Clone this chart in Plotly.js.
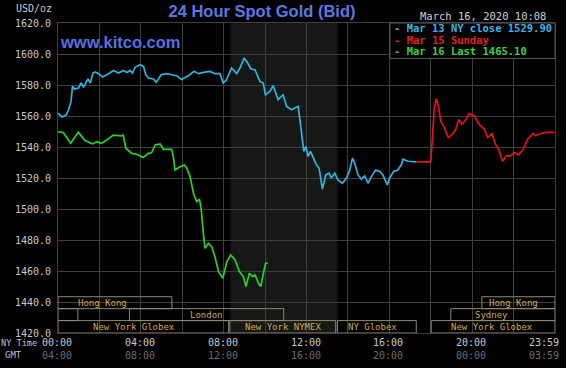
<!DOCTYPE html>
<html>
<head>
<meta charset="utf-8">
<script src="https://cdn.plot.ly/plotly-3.0.1.min.js"></script>
<style>
html,body{margin:0;padding:0;background:#000;}
#chart{width:566px;height:368px;}
</style>
</head>
<body>
<div id="chart"></div>
<script>
// ---- data (hours since 00:00 NY time, USD/oz) ----
const mar13Hours = [0, 0.19, 0.39, 0.51, 0.63, 0.7, 0.8, 0.99, 1.12, 1.23, 1.45, 1.56, 1.69, 1.8, 1.96, 2.15, 2.36, 2.68, 2.92, 3.16, 3.33, 3.48, 3.6, 3.73, 3.97, 4.13, 4.24, 4.37, 4.61, 4.74, 4.98, 5.25, 5.49, 5.73, 5.96, 6.29, 6.58, 6.78, 7.02, 7.34, 7.58, 7.82, 7.98, 8.14, 8.38, 8.63, 8.79, 8.99, 9.16, 9.32, 9.51, 9.75, 9.91, 10.02, 10.23, 10.39, 10.63, 10.87, 11.04, 11.28, 11.52, 11.6, 11.68, 11.81, 11.87, 11.97, 12.08, 12.19, 12.32, 12.48, 12.61, 12.77, 12.93, 13.09, 13.2, 13.36, 13.52, 13.73, 13.93, 14.09, 14.22, 14.33, 14.49, 14.65, 14.81, 14.97, 15.18, 15.34, 15.53, 15.69, 15.9, 16.01, 16.21, 16.41, 16.58, 16.66, 16.9, 17.3];
const mar13Values = [1561.9, 1559.4, 1560.6, 1564, 1569.4, 1579.1, 1577.4, 1578.1, 1581.3, 1578.5, 1583.9, 1581.3, 1587.7, 1588.4, 1587.3, 1585.2, 1586.6, 1589.4, 1587.7, 1589.4, 1588.1, 1589.4, 1587.7, 1591.6, 1593.1, 1592, 1586.6, 1584.5, 1583.9, 1581.7, 1586.6, 1587.3, 1586.6, 1586, 1583.6, 1586, 1588.8, 1587.3, 1588.1, 1588.8, 1587.3, 1587.3, 1581.3, 1583.4, 1591, 1587.3, 1591, 1597.4, 1594.2, 1590.3, 1589.9, 1582.3, 1581.3, 1573.7, 1575.9, 1579.5, 1570.5, 1573.7, 1566.2, 1564.1, 1565.8, 1566.2, 1557.6, 1544.7, 1537.2, 1540.4, 1533.9, 1537.2, 1532.9, 1528.5, 1526.3, 1512.8, 1522, 1523.1, 1519.9, 1523.1, 1518.8, 1516.6, 1519.9, 1525.2, 1532.8, 1529.5, 1522, 1519.2, 1521.3, 1516.6, 1522, 1525.2, 1524.2, 1522, 1515.5, 1519.9, 1524.2, 1525.2, 1528.5, 1532.1, 1530.8, 1530.4];

const mar15Hours = [17.3, 18.0, 18.05, 18.11, 18.17, 18.27, 18.37, 18.48, 18.65, 18.85, 19.05, 19.21, 19.35, 19.51, 19.7, 19.86, 20.1, 20.34, 20.59, 20.75, 20.96, 21.12, 21.28, 21.47, 21.64, 21.83, 22.04, 22.25, 22.47, 22.68, 22.95, 23.08, 23.32, 23.57, 23.98];
const mar15Values = [1530.4, 1530.4, 1539.6, 1554.6, 1565.3, 1571.3, 1566.4, 1556.8, 1552.5, 1546.1, 1548.2, 1551.4, 1557.8, 1554.6, 1557.8, 1561.5, 1560, 1554.6, 1551.4, 1546.1, 1548.7, 1541.8, 1538.6, 1530.6, 1534.3, 1534.3, 1536.4, 1534.9, 1538.6, 1545, 1548.7, 1547.2, 1548.7, 1549.4, 1549.4];

const mar16Hours = [0, 0.26, 0.61, 0.98, 1.3, 1.67, 1.87, 2.1, 2.35, 2.67, 3.07, 3.15, 3.28, 3.56, 3.8, 4.12, 4.36, 4.52, 4.69, 4.93, 5.09, 5.49, 5.57, 5.65, 5.89, 6.1, 6.22, 6.38, 6.54, 6.7, 6.83, 6.91, 7.02, 7.1, 7.26, 7.42, 7.58, 7.75, 7.96, 8.15, 8.34, 8.55, 8.76, 8.95, 9.08, 9.24, 9.4, 9.52, 9.68, 9.79, 9.95, 10.03, 10.13];
const mar16Values = [1549.9, 1549.2, 1542.4, 1549.5, 1544.1, 1542, 1543.4, 1542.4, 1544.5, 1547.7, 1547.1, 1547.7, 1539.2, 1535.9, 1535.3, 1533.3, 1535.9, 1536.3, 1541.3, 1541.9, 1538.5, 1538.5, 1533.8, 1525.2, 1527.3, 1528.4, 1526.3, 1520.9, 1510.1, 1504.7, 1506.3, 1500.5, 1484.3, 1474.6, 1477.8, 1475.7, 1469.2, 1459.6, 1455.3, 1466, 1470.3, 1467.1, 1459.6, 1456.4, 1449.9, 1458.5, 1456.4, 1457.4, 1452.1, 1449.9, 1460.6, 1465, 1465.1];

const seriesNames = ['Mar 13 NY close 1529.90', 'Mar 15 Sunday', 'Mar 16 Last 1465.10'];

const tickHours = [0, 4, 8, 12, 16, 20, 23.983];
const nyTimeLabels = ['00:00', '04:00', '08:00', '12:00', '16:00', '20:00', '23:59'];
const gmtLabels = ['04:00', '08:00', '12:00', '16:00', '20:00', '00:00', '03:59'];

// sessions
const sessionNames = ['Hong Kong', '', 'London', 'New York Globex', 'New York NYMEX', 'NY Globex', 'New York Globex', 'Sydney', 'Hong Kong'];
const sessionStart = [0, 0, 3.45, 0, 8.3, 13.49, 18.02, 18.97, 20.47];
const sessionEnd = [5.5, 0.96, 10.9, 8.24, 13.41, 17.3, 24, 24, 24];
const sessionRow = [1, 2, 2, 3, 3, 3, 3, 2, 1];
const sessionLabelHour = [2.13, null, 7.15, 3.65, 10.87, 15.17, 20.94, 20.95, 22.01];
const nymexShade = [8.33, 13.5];

// ---- layout helpers ----
const W = 566, H = 368, ML = 58, MR = 11, MT = 23, MB = 35;
const PW = W - ML - MR, PH = H - MT - MB;
const PX = px => (px - ML) / PW;
const PY = py => (H - MB - py) / PH;
const mono = 'DejaVu Sans Mono, monospace';
const rowBounds = {1: [1435.7, 1443.4], 2: [1428, 1435.7], 3: [1420, 1428]};

const colors = {cyan: '#2eb4de', red: '#e01414', green: '#2ad02a'};
const legendColors = ['#3cb4e6', '#e02020', '#3cd23c'];

const traces = [
  {x: mar13Hours, y: mar13Values, name: seriesNames[0], mode: 'lines', line: {color: colors.cyan, width: 1.7}},
  {x: mar15Hours, y: mar15Values, name: seriesNames[1], mode: 'lines', line: {color: colors.red, width: 1.7}},
  {x: mar16Hours, y: mar16Values, name: seriesNames[2], mode: 'lines', line: {color: colors.green, width: 1.7}}
];

const shapes = [];
const annotations = [];

// NYMEX shading
shapes.push({type: 'rect', xref: 'x', yref: 'paper', x0: nymexShade[0], x1: nymexShade[1], y0: 0, y1: 1,
  fillcolor: '#161816', line: {width: 0}, layer: 'below'});

// sessions
for (let i = 0; i < sessionNames.length; i++) {
  const b = rowBounds[sessionRow[i]];
  shapes.push({type: 'rect', xref: 'x', yref: 'y', x0: sessionStart[i], x1: sessionEnd[i], y0: b[0], y1: b[1],
    fillcolor: 'rgba(0,0,0,0)', line: {color: '#8f8a6c', width: 1}, layer: 'above'});
  if (sessionNames[i]) {
    annotations.push({xref: 'x', yref: 'y', x: sessionLabelHour[i], y: (b[0] + b[1]) / 2,
      text: sessionNames[i], showarrow: false, xanchor: 'center', yanchor: 'middle',
      font: {family: mono, size: 9, color: '#d4aa48'}});
  }
}

// legend box
shapes.push({type: 'rect', xref: 'paper', yref: 'paper', x0: PX(390), x1: 1, y0: PY(58.5), y1: 1,
  fillcolor: '#000', line: {color: '#5a5a5a', width: 1}, layer: 'above'});
const legendY = [28.3, 40, 51.3];
for (let i = 0; i < 3; i++) {
  annotations.push({xref: 'paper', yref: 'paper', x: PX(392), y: PY(legendY[i]), xanchor: 'left', yanchor: 'middle',
    text: '<b>- ' + seriesNames[i] + '</b>', showarrow: false, font: {family: mono, size: 10.5, color: legendColors[i]}});
}

// x tick labels
for (let i = 0; i < tickHours.length; i++) {
  const last = i === tickHours.length - 1;
  annotations.push({xref: 'x', yref: 'paper', x: tickHours[i], y: PY(342.7), xanchor: last ? 'right' : 'center', xshift: last ? 6 : -1,
    yanchor: 'middle', text: nyTimeLabels[i], showarrow: false, font: {family: mono, size: 10, color: '#c8c8c8'}});
  annotations.push({xref: 'x', yref: 'paper', x: tickHours[i], y: PY(355), xanchor: last ? 'right' : 'center', xshift: last ? 6 : -1,
    yanchor: 'middle', text: gmtLabels[i], showarrow: false, font: {family: mono, size: 10, color: '#6c6c6c'}});
}
annotations.push({xref: 'paper', yref: 'paper', x: PX(-1), y: PY(342.7), xanchor: 'left', yanchor: 'middle',
  text: 'NY Time', showarrow: false, font: {family: mono, size: 8.6, color: '#c0c0c0'}});
annotations.push({xref: 'paper', yref: 'paper', x: PX(24), y: PY(355), xanchor: 'right', yanchor: 'middle',
  text: 'GMT', showarrow: false, font: {family: mono, size: 9, color: '#c0c0c0'}});

// other texts
annotations.push({xref: 'paper', yref: 'paper', x: PX(54), y: PY(9), xanchor: 'right', yanchor: 'middle',
  text: 'USD/oz', showarrow: false, font: {family: mono, size: 10, color: '#c8c8c8'}});
annotations.push({xref: 'paper', yref: 'paper', x: PX(418), y: PY(15.5), xanchor: 'left', yanchor: 'middle',
  text: 'March 16, 2020 10:08', showarrow: false, font: {family: mono, size: 10.5, color: '#d0d0d0'}});
annotations.push({xref: 'paper', yref: 'paper', x: PX(58), y: PY(42), xanchor: 'left', yanchor: 'middle',
  text: '<b>www.kitco.com</b>', showarrow: false, font: {family: 'Liberation Sans, Arial, sans-serif', size: 16.5, color: '#5670e2'}});

const grid = '#3e3e3e';
const layout = {
  width: W, height: H,
  margin: {l: ML, r: MR, t: MT, b: MB, pad: 0},
  paper_bgcolor: '#000', plot_bgcolor: '#000',
  showlegend: false,
  title: {text: '<b>24 Hour Spot Gold (Bid)</b>', xref: 'container', yref: 'container',
    x: 262 / W, xanchor: 'center', y: 1 - 11.5 / H, yanchor: 'middle',
    font: {family: 'Liberation Sans, Arial, sans-serif', size: 16.5, color: '#5a78e2'}},
  xaxis: {range: [0, 24], tick0: 0, dtick: 2, showticklabels: false, ticks: '',
    showgrid: true, gridcolor: grid, gridwidth: 1, zeroline: false,
    showline: true, mirror: true, linecolor: grid, linewidth: 1, fixedrange: true},
  yaxis: {range: [1420, 1620], tick0: 1420, dtick: 20, tickformat: '.1f', ticks: '',
    tickfont: {family: mono, size: 10, color: '#c8c8c8'}, ticklabelstandoff: 4,
    showgrid: true, gridcolor: grid, gridwidth: 1, zeroline: false,
    showline: true, mirror: true, linecolor: grid, linewidth: 1, fixedrange: true},
  shapes: shapes,
  annotations: annotations
};

Plotly.newPlot('chart', traces, layout, {displayModeBar: false, staticPlot: true});
</script>
</body>
</html>
